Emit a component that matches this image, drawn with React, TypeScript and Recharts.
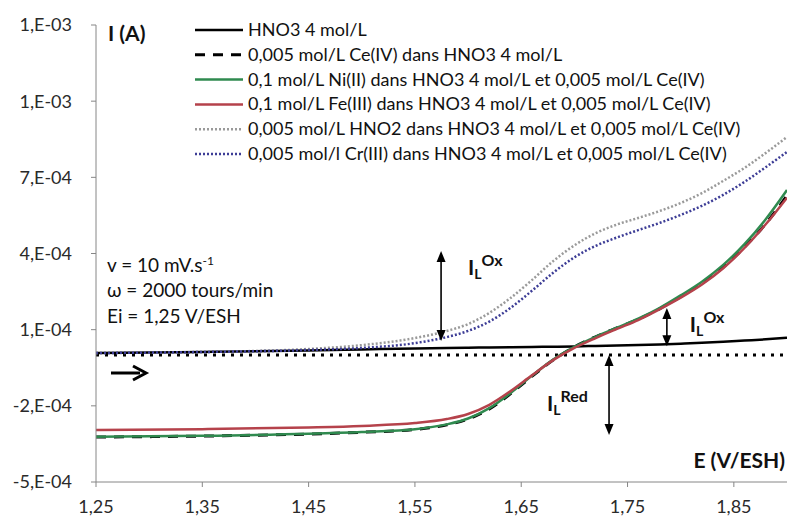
import { LineChart, Line, XAxis, YAxis, ReferenceLine } from 'recharts';

// potential (V/ESH)
const potentials = [1.25, 1.35, 1.45, 1.5, 1.55, 1.58, 1.6, 1.62, 1.64, 1.66, 1.68, 1.7, 1.72, 1.74, 1.76, 1.78, 1.8, 1.82, 1.84, 1.86, 1.88, 1.9];

// currents (A)
const hno3 = [8e-6, 1.2e-5, 1.8e-5, 2.2e-5, 2.6e-5, 2.8e-5, 2.9e-5, 3.0e-5, 3.1e-5, 3.2e-5, 3.3e-5, 3.4e-5, 3.6e-5, 3.8e-5, 4.0e-5, 4.2e-5, 4.5e-5, 4.8e-5, 5.2e-5, 5.7e-5, 6.2e-5, 6.8e-5];
const ce4 = [-3.23e-4, -3.19e-4, -3.11e-4, -3.04e-4, -2.93e-4, -2.75e-4, -2.52e-4, -2.12e-4, -1.52e-4, -8.4e-5, -2.0e-5, 3.2e-5, 7.2e-5, 1.07e-4, 1.41e-4, 1.82e-4, 2.3e-4, 2.82e-4, 3.46e-4, 4.25e-4, 5.17e-4, 6.28e-4];
const ni2 = [-3.22e-4, -3.18e-4, -3.1e-4, -3.03e-4, -2.92e-4, -2.73e-4, -2.5e-4, -2.09e-4, -1.49e-4, -8.2e-5, -1.8e-5, 3.2e-5, 7.2e-5, 1.08e-4, 1.43e-4, 1.85e-4, 2.35e-4, 2.89e-4, 3.55e-4, 4.37e-4, 5.35e-4, 6.5e-4];
const fe3 = [-2.95e-4, -2.92e-4, -2.85e-4, -2.79e-4, -2.68e-4, -2.52e-4, -2.32e-4, -1.96e-4, -1.42e-4, -8.0e-5, -2.0e-5, 2.8e-5, 6.7e-5, 1.03e-4, 1.38e-4, 1.8e-4, 2.26e-4, 2.78e-4, 3.42e-4, 4.22e-4, 5.15e-4, 6.2e-4];
const hno2 = [8e-6, 1.2e-5, 2.4e-5, 3.9e-5, 6.7e-5, 9.5e-5, 1.22e-4, 1.66e-4, 2.25e-4, 2.95e-4, 3.7e-4, 4.32e-4, 4.8e-4, 5.14e-4, 5.4e-4, 5.67e-4, 5.99e-4, 6.38e-4, 6.86e-4, 7.37e-4, 7.96e-4, 8.59e-4];
const cr3 = [8e-6, 1.2e-5, 2.0e-5, 2.8e-5, 4.7e-5, 7.1e-5, 9.5e-5, 1.32e-4, 1.86e-4, 2.53e-4, 3.24e-4, 3.85e-4, 4.3e-4, 4.63e-4, 4.92e-4, 5.2e-4, 5.52e-4, 5.88e-4, 6.31e-4, 6.82e-4, 7.4e-4, 8.0e-4];

const xTicks = [1.25, 1.35, 1.45, 1.55, 1.65, 1.75, 1.85];
const xTickLabels = ['1,25', '1,35', '1,45', '1,55', '1,65', '1,75', '1,85'];
const yTicks = [-5e-4, -2e-4, 1e-4, 4e-4, 7e-4, 1e-3, 1.3e-3];
const yTickLabels = ['-5,E-04', '-2,E-04', '1,E-04', '4,E-04', '7,E-04', '1,E-03', '1,E-03'];

const seriesNames = [
  'HNO3 4 mol/L',
  '0,005 mol/L Ce(IV) dans HNO3 4 mol/L',
  '0,1 mol/L Ni(II) dans HNO3 4 mol/L et 0,005 mol/L Ce(IV)',
  '0,1 mol/L Fe(III) dans HNO3 4 mol/L et 0,005 mol/L Ce(IV)',
  '0,005 mol/L HNO2 dans HNO3 4 mol/L et 0,005 mol/L Ce(IV)',
  '0,005 mol/l Cr(III) dans HNO3 4 mol/L et 0,005 mol/L Ce(IV)',
];

const data = potentials.map((E, i) => ({
  E,
  hno3: hno3[i],
  ce4: ce4[i],
  ni2: ni2[i],
  fe3: fe3[i],
  hno2: hno2[i],
  cr3: cr3[i],
}));

const styles = [
  { key: 'hno3', color: '#000000', width: 2.5, dash: undefined },
  { key: 'ce4', color: '#000000', width: 3, dash: '10 8' },
  { key: 'ni2', color: '#2f8a4f', width: 2.5, dash: undefined },
  { key: 'fe3', color: '#b5424b', width: 2.5, dash: undefined },
  { key: 'hno2', color: '#9a9a9a', width: 2.5, dash: '2 2' },
  { key: 'cr3', color: '#3d3d96', width: 2.5, dash: '2 2' },
];

const FONT = 'Lato, sans-serif';

const fmt = (list: number[], labels: string[]) => (v: number) => {
  const i = list.findIndex((t) => Math.abs(t - v) < 1e-9);
  return i >= 0 ? labels[i] : '';
};

function arrowShape(sup: string, dx: number, dy: number) {
  return (p: any) => {
    const { x1, y1, y2 } = p;
    const top = Math.min(y1, y2);
    const bot = Math.max(y1, y2);
    const h = 11;
    const w = 4.5;
    return (
      <g>
        <line x1={x1} y1={top + h - 1} x2={x1} y2={bot - h + 1} stroke="#000" strokeWidth={1.6} />
        <polygon points={`${x1},${top} ${x1 - w},${top + h} ${x1 + w},${top + h}`} fill="#000" />
        <polygon points={`${x1},${bot} ${x1 - w},${bot - h} ${x1 + w},${bot - h}`} fill="#000" />
        <text x={x1 + dx} y={(top + bot) / 2 + dy} fontFamily={FONT} fontWeight="bold" fontSize={21} fill="#111">
          I
          <tspan dy={4} fontSize={14}>L</tspan>
          <tspan dy={-13} fontSize={16}>{sup}</tspan>
        </text>
      </g>
    );
  };
}

export default function App() {
  return (
    <div style={{ position: 'absolute', left: 0, top: 0, width: 787, height: 522, background: '#fff', fontFamily: FONT }}>
      <LineChart width={787} height={522} data={data} margin={{ top: 25, right: 0, bottom: 0, left: 6 }}>
        <XAxis
          type="number"
          dataKey="E"
          domain={[1.25, 1.9]}
          ticks={xTicks}
          interval={0}
          allowDataOverflow
          tickFormatter={fmt(xTicks, xTickLabels)}
          stroke="#868686"
          tickSize={5}
          tickMargin={13}
          height={40}
          tick={{ fill: '#2a2a2a', fontSize: 18, fontFamily: FONT }}
        />
        <YAxis
          type="number"
          domain={[-5e-4, 1.3e-3]}
          ticks={yTicks}
          interval={0}
          allowDataOverflow
          tickFormatter={fmt(yTicks, yTickLabels)}
          stroke="#868686"
          tickSize={5}
          tickMargin={19}
          width={90}
          tick={{ fill: '#2a2a2a', fontSize: 18, fontFamily: FONT }}
        />
        <ReferenceLine y={0} stroke="#000" strokeWidth={3} strokeDasharray="3 6" />
        {styles.map((s) => (
          <Line
            key={s.key}
            type="monotone"
            dataKey={s.key}
            stroke={s.color}
            strokeWidth={s.width}
            strokeDasharray={s.dash}
            dot={false}
            activeDot={false}
            isAnimationActive={false}
          />
        ))}
        <ReferenceLine segment={[{ x: 1.5746, y: 4.1e-4 }, { x: 1.5746, y: 5.5e-5 }]} shape={arrowShape('Ox', 27, -21)} />
        <ReferenceLine segment={[{ x: 1.787, y: 1.85e-4 }, { x: 1.787, y: 3.5e-5 }]} shape={arrowShape('Ox', 23, 5)} />
        <ReferenceLine segment={[{ x: 1.7326, y: 0 }, { x: 1.7326, y: -3.15e-4 }]} shape={arrowShape('Red', -62, 16)} />
      </LineChart>

      <svg width={787} height={522} style={{ position: 'absolute', left: 0, top: 0, pointerEvents: 'none' }}>
        <text x={108} y={41} fontFamily={FONT} fontWeight="bold" fontSize={21} fill="#111">I (A)</text>
        <text x={785} y={468} textAnchor="end" fontFamily={FONT} fontWeight="bold" fontSize={21} fill="#111">E (V/ESH)</text>

        <text x={107} y={272} fontFamily={FONT} fontSize={19} fill="#111">
          v = 10 mV.s<tspan dy={-7} fontSize={12}>-1</tspan>
        </text>
        <text x={107} y={297} fontFamily={FONT} fontSize={19} fill="#111">ω = 2000 tours/min</text>
        <text x={107} y={323} fontFamily={FONT} fontSize={19} fill="#111">Ei = 1,25 V/ESH</text>

        <line x1={111} y1={373} x2={140} y2={373} stroke="#000" strokeWidth={3} />
        <polyline points="133,366 146,373 133,380" fill="none" stroke="#000" strokeWidth={3} />

        {seriesNames.map((name, i) => {
          const s = styles[i];
          const y = 30 + i * 24.8;
          return (
            <g key={name}>
              <line x1={195} y1={y} x2={243} y2={y} stroke={s.color} strokeWidth={s.width} strokeDasharray={s.dash} />
              <text x={248} y={y + 6} fontFamily={FONT} fontSize={18} fill="#111">{name}</text>
            </g>
          );
        })}
      </svg>
    </div>
  );
}
